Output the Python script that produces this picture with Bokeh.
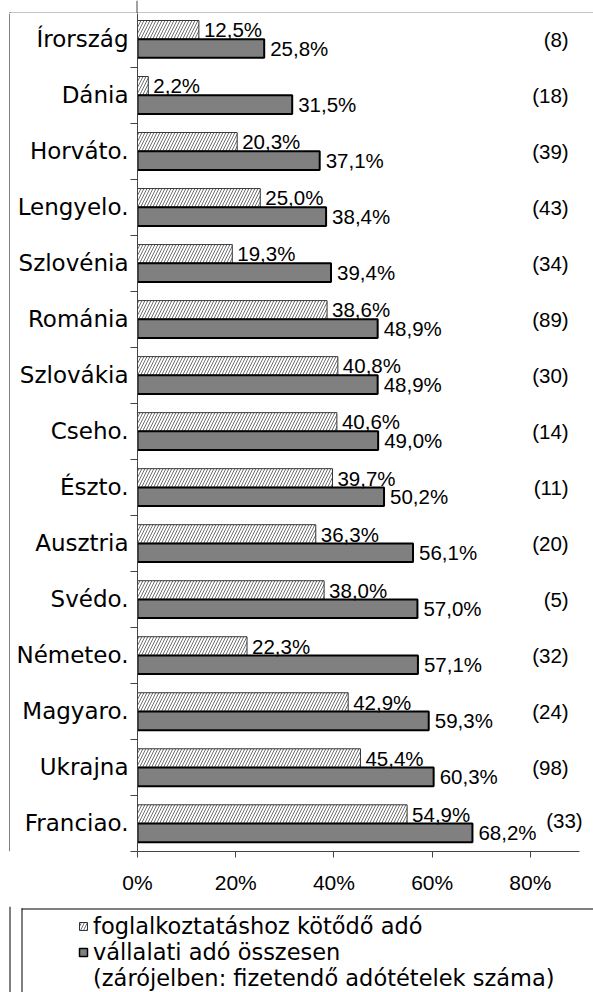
from bokeh.plotting import figure
from bokeh.layouts import column, row
from bokeh.models import (Range1d, FixedTicker, PrintfTickFormatter, Legend, LegendItem,
                          ColumnDataSource)
from bokeh.core.properties import value
from bokeh.embed import file_html
from bokeh.resources import INLINE

# ---- data (top to bottom) ----
categories = ["Írország", "Dánia", "Horváto.", "Lengyelo.", "Szlovénia", "Románia",
              "Szlovákia", "Cseho.", "Észto.", "Ausztria", "Svédo.", "Németeo.",
              "Magyaro.", "Ukrajna", "Franciao."]
employment_tax = [12.5, 2.2, 20.3, 25.0, 19.3, 38.6, 40.8, 40.6, 39.7, 36.3, 38.0, 22.3, 42.9, 45.4, 54.9]
total_tax = [25.8, 31.5, 37.1, 38.4, 39.4, 48.9, 48.9, 49.0, 50.2, 56.1, 57.0, 57.1, 59.3, 60.3, 68.2]
tax_payments = [8, 18, 39, 43, 34, 89, 30, 14, 11, 20, 5, 32, 24, 98, 33]
x_ticks = [0, 20, 40, 60, 80]
legend_labels = ["foglalkoztatáshoz kötődő adó", "vállalati adó összesen",
                 "(zárójelben: fizetendő adótételek száma)"]

n = len(categories)
idx = list(range(n))
BAR_H = 0.333
OFF = 0.167

emp_style = dict(fill_color="white", line_color="#333333", line_width=1,
                 hatch_pattern="/", hatch_color="#707070", hatch_scale=6, hatch_weight=1)
tot_style = dict(fill_color="#808080", line_color="black", line_width=2)
AXIS_C = "#444444"


def pct(v):
    return f"{v:.1f}".replace(".", ",") + "%"


def blank_fig(w, h, xr, yr):
    f = figure(width=w, height=h, x_range=Range1d(*xr), y_range=Range1d(*yr),
               x_axis_type=None, y_axis_type=None, output_backend="svg",
               toolbar_location=None, min_border=0)
    f.outline_line_color = None
    f.background_fill_color = "white"
    f.border_fill_color = "white"
    return f


src = ColumnDataSource(dict(
    y=idx,
    y_emp=[i - OFF for i in idx],
    y_tot=[i + OFF for i in idx],
    emp=employment_tax,
    tot=total_tax,
    emp_lbl=[pct(v) for v in employment_tax],
    tot_lbl=[pct(v) for v in total_tax],
    cnt_lbl=[f"({c})" for c in tax_payments],
    cnt_dx=[0] * (n - 1) + [14],
    cnt_dy=[0] * (n - 1) + [-3],
))

# ---------------- main chart ----------------
p = figure(width=583, height=893, x_range=Range1d(0, 90), y_range=Range1d(14.5, -0.4586),
           output_backend="svg", toolbar_location=None,
           min_border_left=127, min_border_right=14, min_border_top=0, min_border_bottom=55)
p.outline_line_color = None
p.xgrid.visible = False
p.ygrid.visible = False
p.background_fill_color = "white"
p.border_fill_color = "white"

p.hbar(y="y_emp", left=0, right="emp", height=BAR_H, source=src, **emp_style)
p.hbar(y="y_tot", left=0, right="tot", height=BAR_H, source=src, **tot_style)

lbl_font = value("Liberation Sans")
p.text(x="emp", y="y_emp", text="emp_lbl", source=src, x_offset=5,
       text_baseline="middle", text_align="left", text_font=lbl_font,
       text_font_size="20.5px", text_color="black")
p.text(x="tot", y="y_tot", text="tot_lbl", source=src, x_offset=6,
       text_baseline="middle", text_align="left", text_font=lbl_font,
       text_font_size="20.5px", text_color="black")
p.text(x=87.8, y="y", text="cnt_lbl", source=src, x_offset="cnt_dx", y_offset="cnt_dy",
       text_baseline="middle", text_align="right", text_font=lbl_font,
       text_font_size="20.5px", text_color="black", level="overlay")

xa = p.xaxis[0]
xa.ticker = FixedTicker(ticks=x_ticks, minor_ticks=[])
xa.formatter = PrintfTickFormatter(format="%d%%")
xa.axis_line_color = AXIS_C
xa.major_tick_line_color = AXIS_C
xa.major_tick_out = 6
xa.major_tick_in = 0
xa.minor_tick_line_color = None
xa.minor_tick_out = 0
xa.major_label_standoff = 13
xa.major_label_text_font = "Liberation Sans"
xa.major_label_text_font_size = "21px"
xa.major_label_text_color = "black"

ya = p.yaxis[0]
ya.ticker = FixedTicker(ticks=idx, minor_ticks=[i - 0.5 for i in range(n + 1)])
ya.major_label_overrides = {i: c for i, c in enumerate(categories)}
ya.axis_line_color = AXIS_C
ya.major_tick_line_color = None
ya.major_tick_out = 0
ya.major_tick_in = 0
ya.minor_tick_line_color = AXIS_C
ya.minor_tick_out = 7
ya.minor_tick_in = 0
ya.major_label_standoff = 2
ya.major_label_text_font = "DejaVu Sans"
ya.major_label_text_font_size = "23px"
ya.major_label_text_color = "black"

# ---------------- chart-area border pieces ----------------
top_strip = blank_fig(593, 13, (0, 593), (13, 0))
top_strip.quad(left=9, right=593, top=12, bottom=13, fill_color="#8c8c8c",
               line_alpha=0)
top_strip.quad(left=136, right=137, top=0, bottom=13, fill_color=AXIS_C, line_alpha=0)
top_strip.quad(left=9, right=10, top=12, bottom=13, fill_color="black", line_alpha=0)

left_strip = blank_fig(10, 893, (0, 10), (893, 0))
left_strip.quad(left=9, right=10, top=0, bottom=893, fill_color="black", line_alpha=0)

# ---------------- legend area ----------------
leg = blank_fig(593, 86, (0, 593), (86, 0))
leg.quad(left=9, right=10, top=0, bottom=86, fill_color="black", line_alpha=0)
leg.quad(left=21, right=593, top=2, bottom=3, fill_color="black", line_alpha=0)
leg.quad(left=21, right=22, top=2, bottom=86, fill_color="black", line_alpha=0)
mk_emp = dict(emp_style)
mk_tot = dict(tot_style, line_width=1.5)
l_emp = leg.scatter(x=[-100], y=[-100], marker="square", size=8, **mk_emp)
l_tot = leg.scatter(x=[-100], y=[-100], marker="square", size=8, **mk_tot)
l_none = leg.scatter(x=[-100], y=[-100], marker="square", size=8, fill_alpha=0, line_alpha=0)
legend = Legend(items=[LegendItem(label=legend_labels[0], renderers=[l_emp]),
                       LegendItem(label=legend_labels[1], renderers=[l_tot]),
                       LegendItem(label=legend_labels[2], renderers=[l_none])],
                location=(73, 1), orientation="vertical", padding=0, margin=0,
                spacing=0, glyph_width=20, glyph_height=20, label_standoff=0,
                label_height=26, border_line_alpha=0, background_fill_alpha=0,
                label_text_font="DejaVu Sans", label_text_font_size="22.5px",
                label_text_color="black")
leg.add_layout(legend, "center")

layout = column(top_strip, row(left_strip, p, spacing=0), leg, spacing=0)

open("out.html", "w").write(file_html(layout, INLINE))
